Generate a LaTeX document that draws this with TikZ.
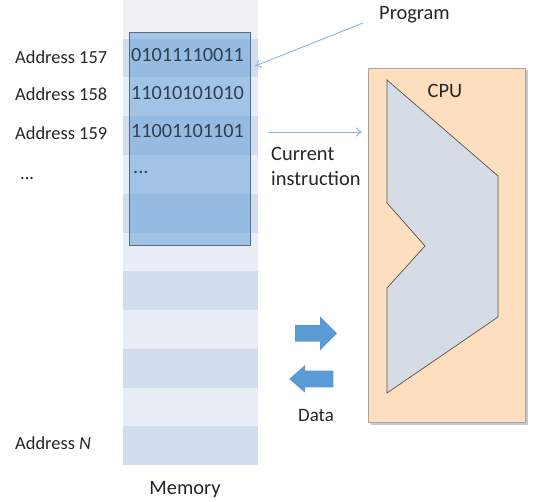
\documentclass[tikz,border=0pt]{standalone}
\usepackage{fontspec}
\setmainfont{Carlito}
\usetikzlibrary{arrows.meta,shadows}
\definecolor{rowlight}{HTML}{E9EDF6}
\definecolor{rowdark}{HTML}{D3DCEC}
\definecolor{rowtop}{HTML}{F1F1F3}
\definecolor{progfill}{HTML}{5B9BD5}
\definecolor{progedge}{HTML}{4F6E91}
\definecolor{bits}{HTML}{2F3F52}
\definecolor{pointer}{HTML}{8EB4E0}
\definecolor{cpufill}{HTML}{FDDFBF}
\definecolor{cpuedge}{HTML}{A6A6A6}
\definecolor{alufill}{HTML}{D6DCE5}
\definecolor{aluedge}{HTML}{5E5048}
\definecolor{databar}{HTML}{5B9BD5}
\definecolor{ink}{HTML}{262626}
\tikzset{
  label/.style={font=\fontsize{20.5}{25}\selectfont, text=ink, inner sep=0pt},
  addr/.style={font=\fontsize{18.5}{21}\selectfont, text=ink, inner sep=0pt, anchor=west},
  bitword/.style={font=\fontsize{20.3}{22}\selectfont, text=bits, inner sep=0pt, anchor=west},
  pointerline/.style={draw=pointer, line width=0.9pt, -{To[length=6pt,width=9pt]}},
}
\begin{document}
\begin{tikzpicture}[x=1bp,y=-1bp]
\useasboundingbox (0,0) rectangle (547,502);
\fill[white] (0,0) rectangle (547,502);

% memory cells, alternating shades
\fill[rowtop] (123,0) rectangle (258,38.75);
\foreach \i in {1,...,11}{
  \pgfmathsetmacro{\ya}{\i*38.75}
  \pgfmathsetmacro{\yb}{(\i+1)*38.75}
  \pgfmathparse{mod(\i,2)==1 ? "rowdark" : "rowlight"}
  \fill[\pgfmathresult] (123,\ya) rectangle (258,\yb);
}
\node[label] (memory) at (185,490) {Memory};

% program block laid over the memory
\draw[fill=progfill, fill opacity=0.5, draw=progedge, line width=0.6pt] (129,32) rectangle (250,245);
\coordinate (progright) at (255,66);
\node[bitword] (w157) at (131,55) {01011110011};
\node[bitword] (w158) at (131,93) {11010101010};
\node[bitword] (w159) at (131,131) {11001101101};
\node[bitword] (wmore) at (133,172) {...};

% addresses
\node[addr] (a157) at (15,57) {Address 157};
\node[addr] (a158) at (15,94) {Address 158};
\node[addr] (a159) at (15,133) {Address 159};
\node[addr] (amore) at (20,179) {...};
\node[addr] (aN) at (15,443) {Address \textit{N}};

% CPU
\draw[fill=cpufill, draw=cpuedge, line width=0.6pt, drop shadow={shadow xshift=2.5bp, shadow yshift=-2.5bp, fill=black!35, opacity=0.6}] (368,68) rectangle (525,422);
\node[label] (cpu) at (445,91) {CPU};
\draw[fill=alufill, draw=aluedge, line width=0.7pt]
  (387,80) -- (498,176) -- (498,317) -- (387,393) -- (387,288) -- (425,246) -- (387,203) -- cycle;
\coordinate (cpuleft) at (362,132);

% labels and pointers
\node[label, anchor=west] (program) at (379,15) {Program};
\coordinate (progtail) at (363,23);
\draw[pointerline] (progtail) -- (progright);
\coordinate (insttail) at (268,132);
\draw[pointerline] (insttail) -- (cpuleft);
\node[label, anchor=north west, align=left] (current) at (271,147) {Current\\instruction};

% data transfer arrows
\fill[databar] (295,325) -- (320,325) -- (320,316.5) -- (337,333.3) -- (320,350.5) -- (320,341.7) -- (295,341.7) -- cycle;
\fill[databar] (333.3,370.7) -- (305,370.7) -- (305,365) -- (289.3,379) -- (305,392.7) -- (305,387.3) -- (333.3,387.3) -- cycle;
\node[label, font=\fontsize{19}{21}\selectfont] (data) at (316,415) {Data};
\end{tikzpicture}
\end{document}
